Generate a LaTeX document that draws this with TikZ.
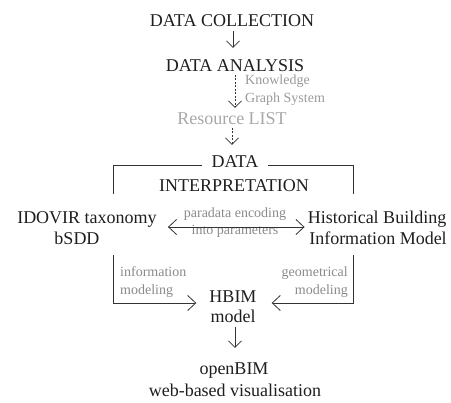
\documentclass[tikz,border=0pt]{standalone}
\usepackage{fontspec}
\setmainfont{Liberation Serif}
\usetikzlibrary{arrows.meta}
\definecolor{ink}{HTML}{1E1E1E}
\definecolor{soft}{HTML}{9A9A9A}
\definecolor{softer}{HTML}{A8A8A8}
\definecolor{mid}{HTML}{8A8A8A}
\definecolor{linec}{HTML}{333333}
\tikzset{
  big/.style={font=\fontsize{18}{21}\selectfont, text=ink, inner sep=0pt, anchor=base},
  small/.style={font=\fontsize{14}{17}\selectfont, text=soft, inner sep=0pt, anchor=base},
  ln/.style={draw=linec, line width=0.8pt},
  arr/.style={ln, -{Straight Barb[length=6.5pt,width=13pt]}},
  arrh/.style={ln, -{Straight Barb[length=8pt,width=15pt]}},
  darr/.style={ln, {Straight Barb[length=8pt,width=15pt]}-{Straight Barb[length=8pt,width=15pt]}},
  dsh/.style={dash pattern=on 2pt off 1.5pt}
}
\begin{document}
\begin{tikzpicture}[x=1pt,y=-1pt]
\path[use as bounding box] (0,0) rectangle (451,403);
% text nodes
\node[big] (dc) at (232,27) {DATA COLLECTION};
\node[big] (da) at (235,72) {DATA ANALYSIS};
\node[small, anchor=base west] (kg1) at (245,85) {Knowledge};
\node[small, anchor=base west] (kg2) at (245,103) {Graph System};
\node[big, text=softer] (rl) at (232,125) {Resource LIST};
\node[big] (di1) at (235,168) {DATA};
\node[big] (di2) at (234,192) {INTERPRETATION};
\node[big] (id1) at (87,224) {IDOVIR taxonomy};
\node[big] (id2) at (77,245) {bSDD};
\node[big] (hb1) at (377,224) {Historical Building};
\node[big] (hb2) at (378,245) {Information Model};
\node[small, text=mid] (pe1) at (235,218) {paradata encoding};
\node[small, text=mid] (pe2) at (235,235) {into parameters};
\node[small, text=mid, anchor=base west] (im1) at (120,277) {information};
\node[small, text=mid, anchor=base west] (im2) at (120,295) {modeling};
\node[small, text=mid, anchor=base east] (gm1) at (348,277) {geometrical};
\node[small, text=mid, anchor=base east] (gm2) at (348,295) {modeling};
\node[big] (hm1) at (233,303) {HBIM};
\node[big] (hm2) at (233,323) {model};
\node[big] (ob1) at (234,375) {openBIM};
\node[big] (ob2) at (235,397) {web-based visualisation};
% vertical arrows
\draw[arr] ([xshift=1pt,yshift=-4pt]dc.base) -- ++(0,17);
\draw[arr,dsh] ([yshift=-3pt]da.base) -- ++(0,33);
\draw[arr,dsh] ([yshift=-3pt]rl.base) -- ++(0,17);
\draw[arr] ([xshift=2pt,yshift=-4pt]hm2.base) -- ++(0,21);
% bracket around DATA INTERPRETATION
\coordinate (tl) at (113,194);
\coordinate (tr) at (353,194);
\draw[ln] (tl) |- ([xshift=-10pt,yshift=3pt]di1.base west);
\draw[ln] ([xshift=10pt,yshift=3pt]di1.base east) -| (tr);
% double arrow
\draw[darr] ([xshift=11pt,yshift=-3pt]id1.base east) -- ([xshift=-3pt,yshift=-3pt]hb1.base west);
% modeling arrows into HBIM
\coordinate (bl) at (113,255);
\coordinate (br) at (353,255);
\draw[arrh] (bl) |- ([xshift=-13pt]hm1.base west);
\draw[arrh] (br) |- ([xshift=15pt]hm1.base east);
\end{tikzpicture}
\end{document}
